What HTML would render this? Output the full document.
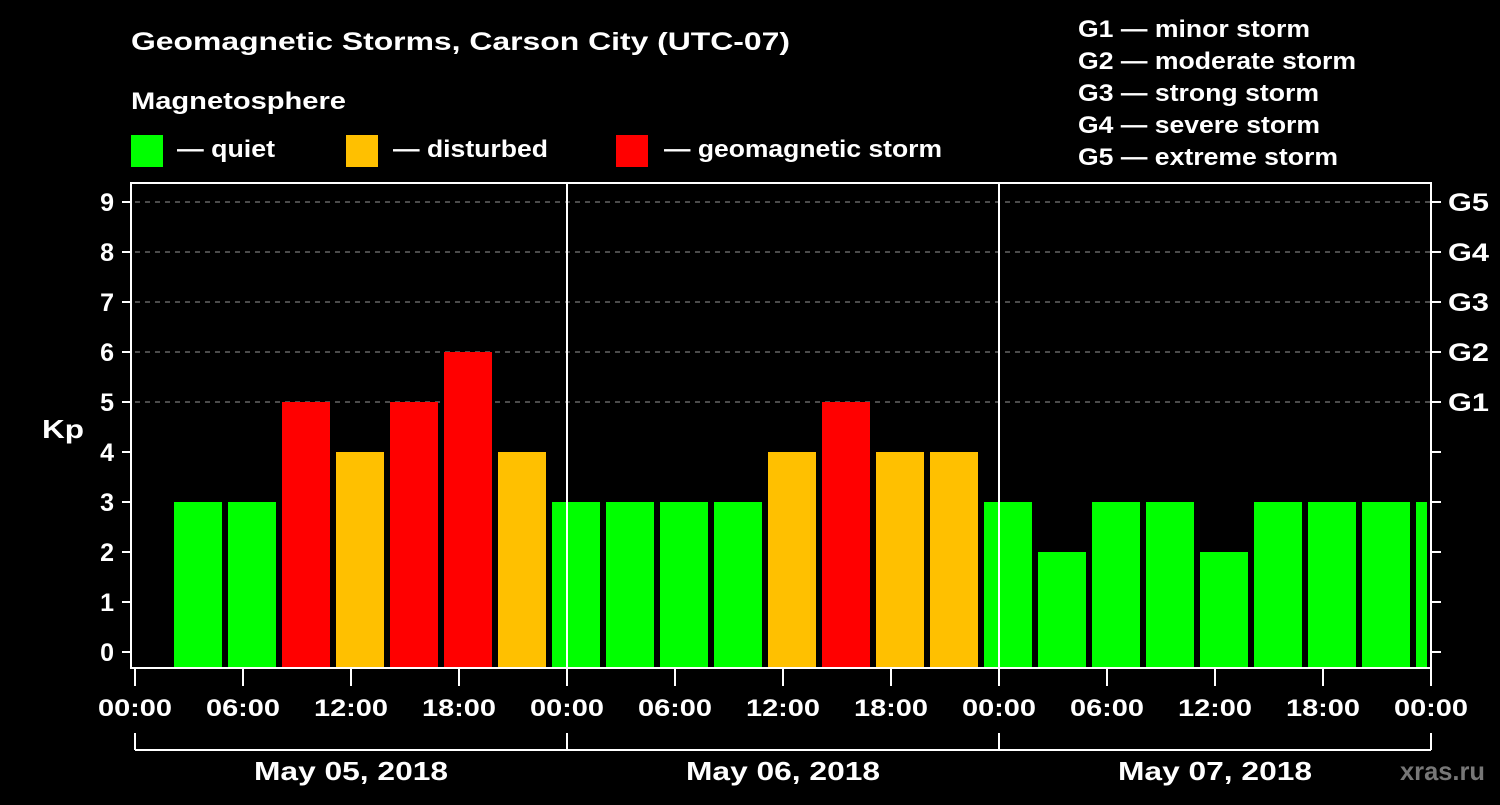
<!DOCTYPE html>
<html><head><meta charset="utf-8"><style>
body{margin:0;background:#000;}
svg text{font-family:"Liberation Sans",Arial,sans-serif;font-weight:bold;fill:#fff;}
</style></head><body>
<svg id="c" width="1500" height="800" viewBox="0 0 1500 800" xmlns="http://www.w3.org/2000/svg" font-family="Liberation Sans, Arial, sans-serif">
<rect width="1500" height="800" fill="#000"/>
<text x="131" y="50" font-size="25" textLength="659" lengthAdjust="spacingAndGlyphs">Geomagnetic Storms, Carson City (UTC-07)</text>
<text x="131" y="109" font-size="24" textLength="215" lengthAdjust="spacingAndGlyphs">Magnetosphere</text>
<g>
<rect x="131" y="135" width="32" height="32" fill="#00ff00"/><text x="177" y="157" font-size="24" textLength="98" lengthAdjust="spacingAndGlyphs">— quiet</text>
<rect x="346" y="135" width="32" height="32" fill="#ffc000"/><text x="393" y="157" font-size="24" textLength="155" lengthAdjust="spacingAndGlyphs">— disturbed</text>
<rect x="616" y="135" width="32" height="32" fill="#ff0000"/><text x="664" y="157" font-size="24" textLength="278" lengthAdjust="spacingAndGlyphs">— geomagnetic storm</text>
</g>
<g font-size="24">
<text x="1078" y="37" textLength="232" lengthAdjust="spacingAndGlyphs">G1 — minor storm</text>
<text x="1078" y="69" textLength="278" lengthAdjust="spacingAndGlyphs">G2 — moderate storm</text>
<text x="1078" y="101" textLength="241" lengthAdjust="spacingAndGlyphs">G3 — strong storm</text>
<text x="1078" y="133" textLength="242" lengthAdjust="spacingAndGlyphs">G4 — severe storm</text>
<text x="1078" y="165" textLength="260" lengthAdjust="spacingAndGlyphs">G5 — extreme storm</text>
</g>
<g id="grid"></g><g id="bars"></g><g id="axes"></g>
<text x="42" y="438" font-size="26" textLength="42" lengthAdjust="spacingAndGlyphs">Kp</text>
<text x="1400" y="780" font-size="26" style="fill:#777" textLength="85" lengthAdjust="spacingAndGlyphs">xras.ru</text>
</svg>
<script>
const kpValues=[3,3,5,4,5,6,4,3,3,3,3,4,5,4,4,3,2,3,3,2,3,3,3,3];
const startHour=2;
const yTicks=[0,1,2,3,4,5,6,7,8,9];
const gLabels=["G1","G2","G3","G4","G5"];
const timeLabels=["00:00","06:00","12:00","18:00"];
const dayLabels=["May 05, 2018","May 06, 2018","May 07, 2018"];
const NS="http://www.w3.org/2000/svg";
const x0=135,hourPx=18,yBase=652,unit=50,yTop=183,yBottom=668,xEnd=1431;
const X=h=>x0+h*hourPx, Y=v=>yBase-v*unit;
function mk(tag,attrs,parent){const e=document.createElementNS(NS,tag);for(const k in attrs)e.setAttribute(k,attrs[k]);document.getElementById(parent).appendChild(e);return e;}
const col=v=>v>=5?"#ff0000":v>=4?"#ffc000":"#00ff00";
kpValues.forEach((v,i)=>{
 const h=startHour+i*3;const xa=X(h)+3;let xb=X(h+3)-3;if(xb>xEnd-4)xb=xEnd-4;
 const r=mk("rect",{x:xa,y:Y(v),width:xb-xa,height:yBottom-Y(v),fill:col(v)},"bars");
 
 
});
yTicks.forEach(v=>{
 if(v>=5){const l=mk("line",{x1:x0,x2:xEnd,y1:Y(v),y2:Y(v),stroke:"#999","stroke-dasharray":"5,5","stroke-width":1},"grid");
 
 }
 mk("line",{x1:122,x2:131,y1:Y(v),y2:Y(v),stroke:"#fff","stroke-width":2},"axes");
 mk("line",{x1:xEnd,x2:xEnd+10,y1:Y(v),y2:Y(v),stroke:"#fff","stroke-width":2},"axes");
 const t=mk("text",{x:114,y:Y(v)+9,"font-size":25,"text-anchor":"end"},"axes");t.textContent=v;
 
 
});
gLabels.forEach((g,i)=>{const t=mk("text",{x:1448,y:Y(5+i)+9,"font-size":25,textLength:41,lengthAdjust:"spacingAndGlyphs"},"axes");t.textContent=g;
 
 });
mk("rect",{x:131,y:yTop,width:xEnd-131,height:yBottom-yTop,fill:"none",stroke:"#fff","stroke-width":2},"axes");
[1,2].forEach(d=>mk("line",{x1:X(d*24),x2:X(d*24),y1:yTop,y2:yBottom,stroke:"#fff","stroke-width":2},"axes"));
for(let d=0;d<3;d++){
 for(let k=0;k<=4;k++){ if(k==4&&d<2)continue;
  const h=d*24+k*6;mk("line",{x1:X(h),x2:X(h),y1:yBottom,y2:686,stroke:"#fff","stroke-width":2},"axes");
  const t=mk("text",{x:X(h),y:716,"font-size":24,"text-anchor":"middle",textLength:74,lengthAdjust:"spacingAndGlyphs"},"axes");t.textContent=timeLabels[k%4];
  
  }
 const t=mk("text",{x:X(d*24+12),y:780,"font-size":26,"text-anchor":"middle",textLength:194,lengthAdjust:"spacingAndGlyphs"},"axes");t.textContent=dayLabels[d];
 
 
}
mk("line",{x1:X(0),x2:X(72),y1:750,y2:750,stroke:"#fff","stroke-width":2},"axes");
[0,24,48,72].forEach(h=>mk("line",{x1:X(h),x2:X(h),y1:733,y2:750,stroke:"#fff","stroke-width":2},"axes"));
</script>
</body></html>
